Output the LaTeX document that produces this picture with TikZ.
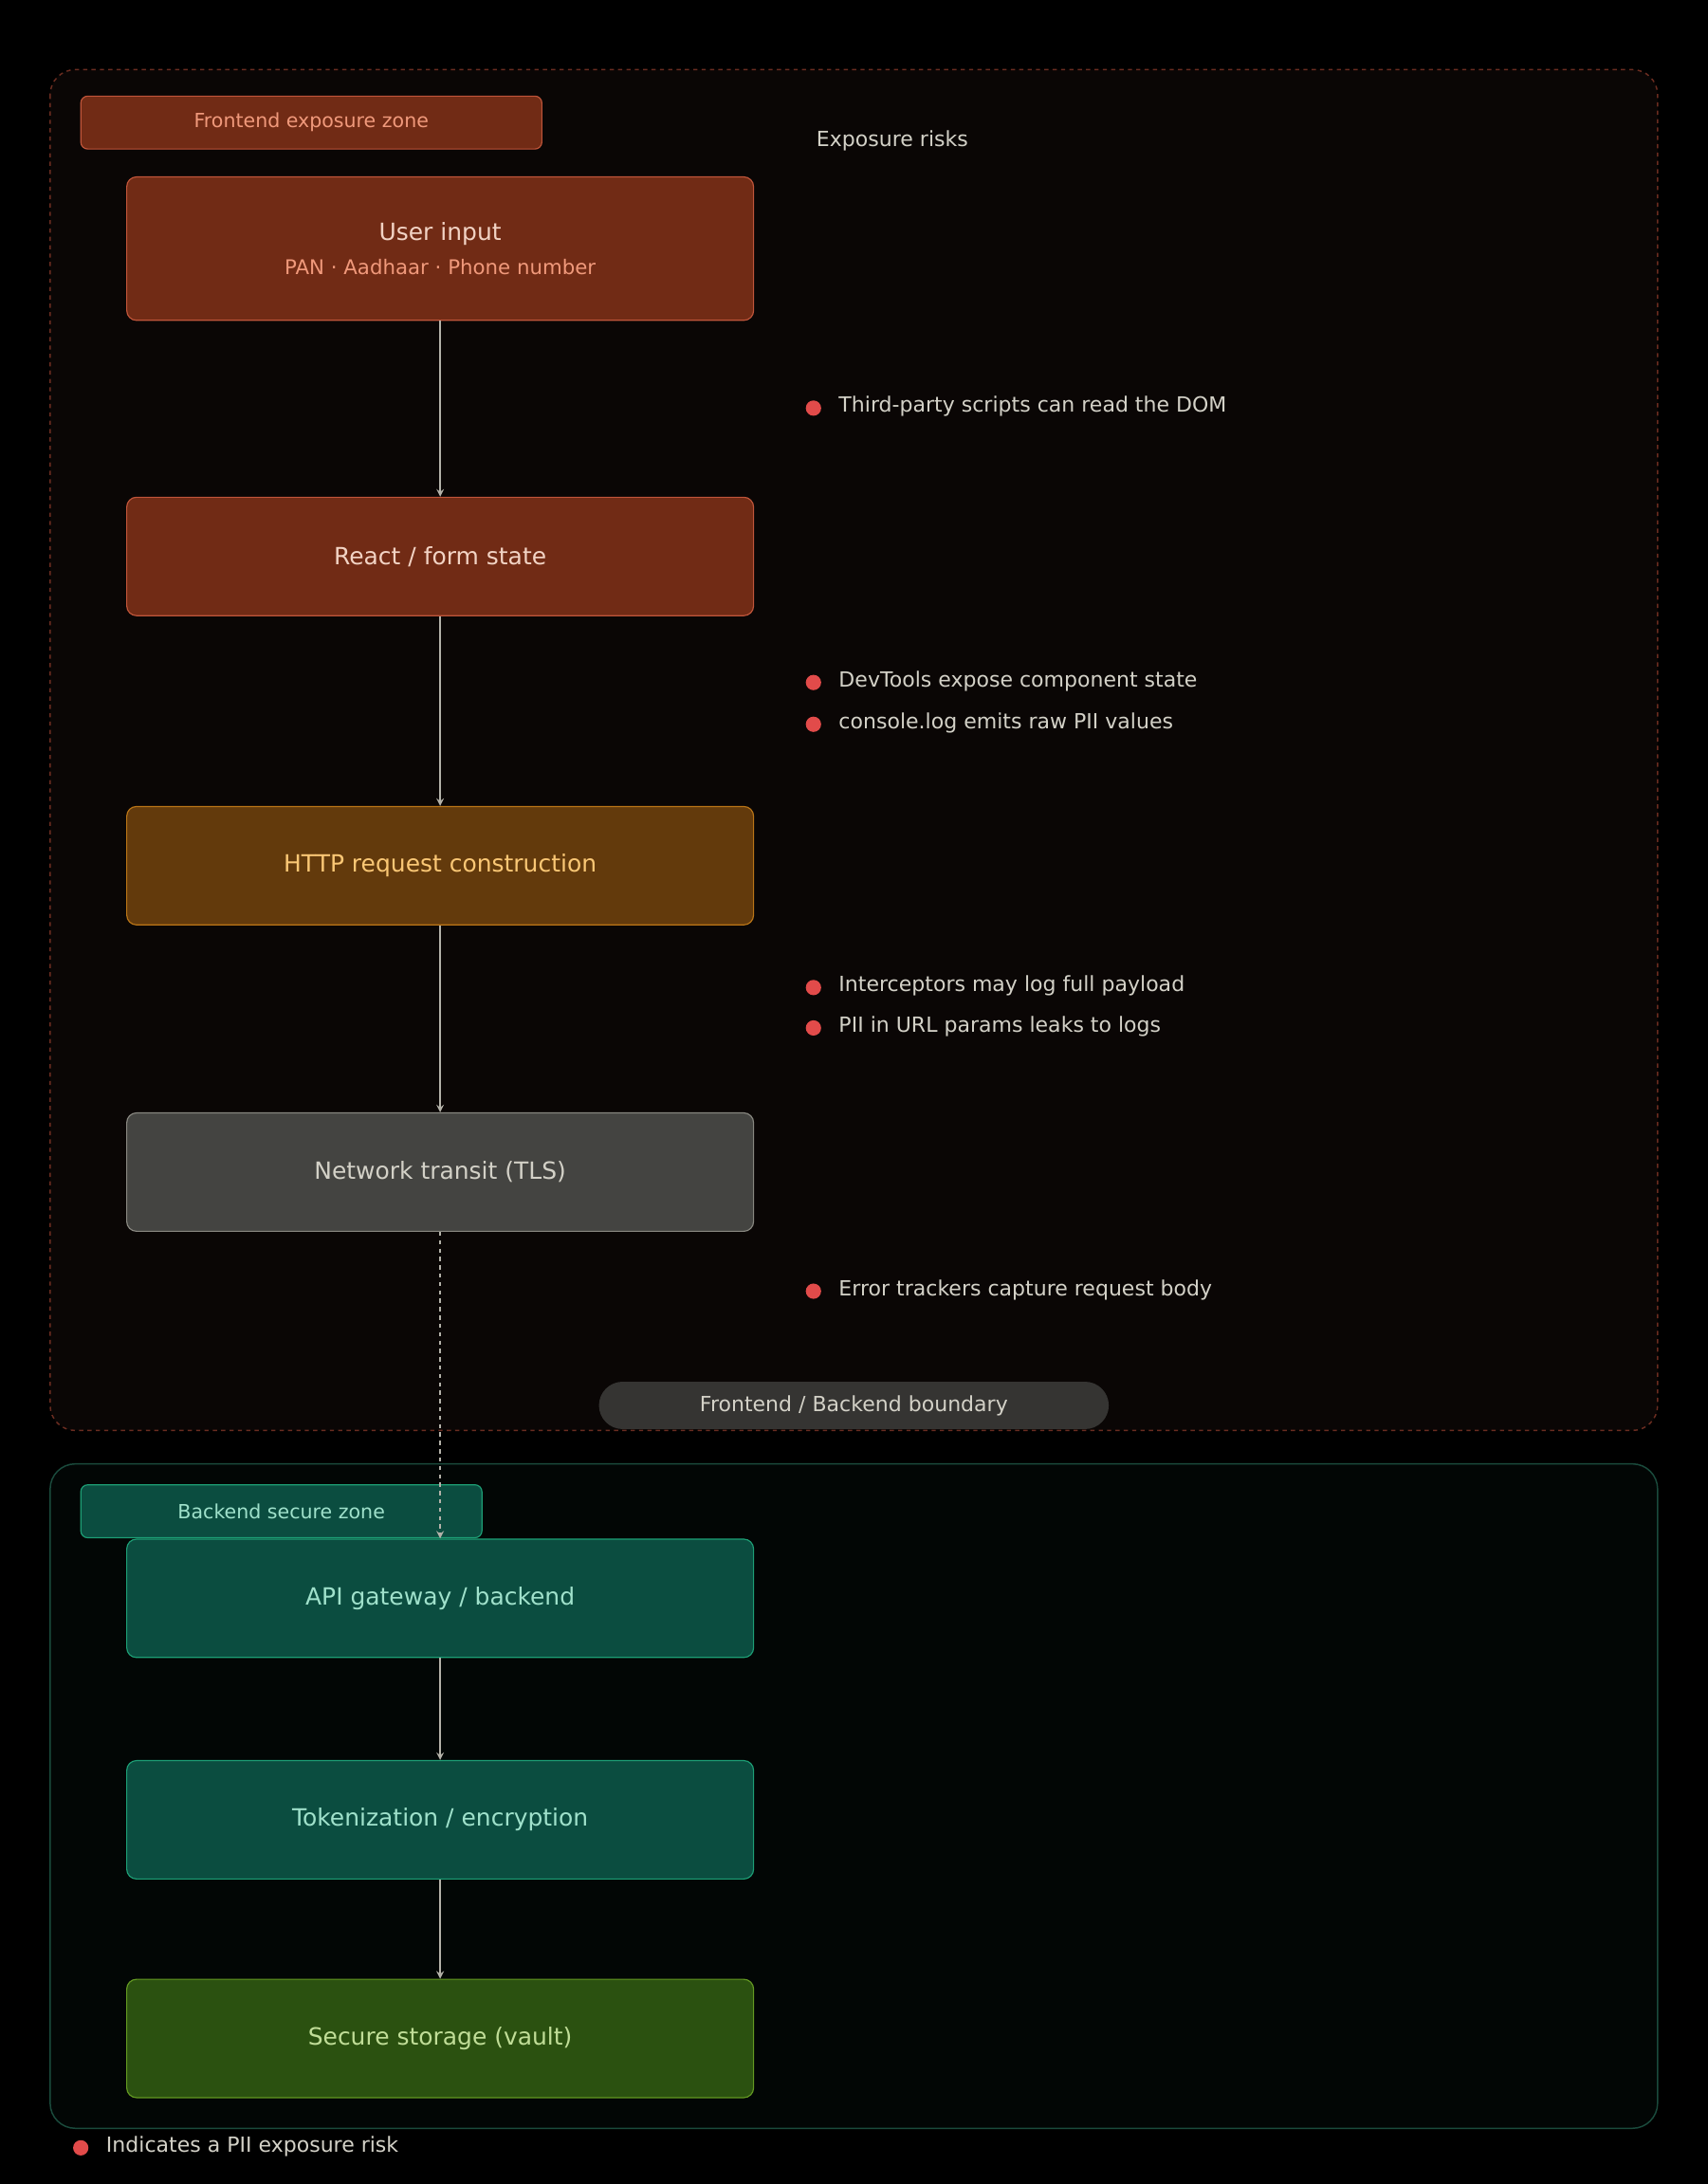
\documentclass[tikz,border=0pt]{standalone}
\usepackage{fontspec}
\setmainfont{DejaVu Sans}
\usetikzlibrary{positioning}
\definecolor{bgblack}{HTML}{000000}
\definecolor{zonefront}{HTML}{0A0605}
\definecolor{zonefrontline}{HTML}{6A2C20}
\definecolor{zoneback}{HTML}{020605}
\definecolor{zonebackline}{HTML}{1A4A3C}
\definecolor{redfill}{HTML}{712B15}
\definecolor{redline}{HTML}{C0553A}
\definecolor{redtext}{HTML}{F2D3C4}
\definecolor{redsub}{HTML}{F0997B}
\definecolor{amberfill}{HTML}{633A0C}
\definecolor{amberline}{HTML}{BA7517}
\definecolor{ambertext}{HTML}{FAC775}
\definecolor{grayfill}{HTML}{444441}
\definecolor{grayline}{HTML}{888780}
\definecolor{graytext}{HTML}{D3D1C7}
\definecolor{tealfill}{HTML}{0B4D40}
\definecolor{tealline}{HTML}{1D9E75}
\definecolor{tealtext}{HTML}{9FE1CB}
\definecolor{greenfill}{HTML}{2B5110}
\definecolor{greenline}{HTML}{639922}
\definecolor{greentext}{HTML}{C0DD97}
\definecolor{riskred}{HTML}{E24B4A}
\definecolor{arrowgray}{HTML}{B4B2A9}
\begin{document}
\begin{tikzpicture}[
  x=1pt, y=-1pt,
  stage/.style={rounded corners=7pt, line width=0.8pt, minimum width=450pt, font=\fontsize{17}{20}\selectfont},
  zonetag/.style={rounded corners=5pt, line width=0.8pt, minimum height=38pt, font=\fontsize{14}{16}\selectfont},
  risk/.style={anchor=west, text=graytext, font=\fontsize{15}{18}\selectfont, inner sep=0pt},
  dot/.style={circle, fill=riskred, inner sep=0pt, minimum size=11pt},
  flow/.style={draw=arrowgray, line width=1.4pt, ->, >=stealth},
]
\fill[bgblack] (0,0) rectangle (1226,1568);
\useasboundingbox (0,0) rectangle (1226,1568);

% zones
\draw[zonefrontline, fill=zonefront, dashed, line width=1pt, rounded corners=18pt] (36,50) rectangle (1190,1027);
\draw[zonebackline, fill=zoneback, line width=1pt, rounded corners=18pt] (36,1051) rectangle (1190,1528);

\node[zonetag, fill=redfill, draw=redline, text=redsub, minimum width=331pt] (fronttag) at (223.5,88) {Frontend exposure zone};
\node[zonetag, fill=tealfill, draw=tealline, text=tealtext, minimum width=288pt] (backtag) at (202,1085) {Backend secure zone};
\node[anchor=west, text=graytext, font=\fontsize{15}{18}\selectfont, inner sep=0pt] (risktitle) at (586,101) {Exposure risks};

% stages
\node[stage, fill=redfill, draw=redline, text=redtext, minimum height=103pt, align=center] (input) at (316,178.5)
  {User input\\[4pt]{\fontsize{14.5}{16}\selectfont\color{redsub}PAN · Aadhaar · Phone number}};
\node[stage, fill=redfill, draw=redline, text=redtext, minimum height=85pt] (react) at (316,399.5) {React / form state};
\node[stage, fill=amberfill, draw=amberline, text=ambertext, minimum height=85pt] (http) at (316,621.5) {HTTP request construction};
\node[stage, fill=grayfill, draw=grayline, text=graytext, minimum height=85pt] (network) at (316,841.5) {Network transit (TLS)};
\node[stage, fill=tealfill, draw=tealline, text=tealtext, minimum height=85pt] (api) at (316,1147.5) {API gateway / backend};
\node[stage, fill=tealfill, draw=tealline, text=tealtext, minimum height=85pt] (token) at (316,1306.5) {Tokenization / encryption};
\node[stage, fill=greenfill, draw=greenline, text=greentext, minimum height=85pt] (vault) at (316,1463.5) {Secure storage (vault)};

\draw[flow] (input) -- (react);
\draw[flow] (react) -- (http);
\draw[flow] (http) -- (network);
\draw[flow, dashed] (network) -- (api);
\draw[flow] (api) -- (token);
\draw[flow] (token) -- (vault);

% boundary
\node[fill=graytext!25!black, text=graytext, rounded corners=17pt, minimum width=366pt, minimum height=34pt, font=\fontsize{15}{18}\selectfont] (boundary) at (613,1009) {Frontend / Backend boundary};

% risks
\node[dot] (d1) at (584,293) {};
\node[risk] (r1) at (602,292) {Third-party scripts can read the DOM};
\node[dot] (d2) at (584,490) {};
\node[risk] (r2) at (602,489) {DevTools expose component state};
\node[dot] (d3) at (584,520) {};
\node[risk] (r3) at (602,519) {console.log emits raw PII values};
\node[dot] (d4) at (584,709) {};
\node[risk] (r4) at (602,708) {Interceptors may log full payload};
\node[dot] (d5) at (584,738) {};
\node[risk] (r5) at (602,737) {PII in URL params leaks to logs};
\node[dot] (d6) at (584,927) {};
\node[risk] (r6) at (602,926) {Error trackers capture request body};

% legend
\node[dot] (legdot) at (58,1542) {};
\node[risk] (legend) at (76,1541) {Indicates a PII exposure risk};
\end{tikzpicture}
\end{document}
